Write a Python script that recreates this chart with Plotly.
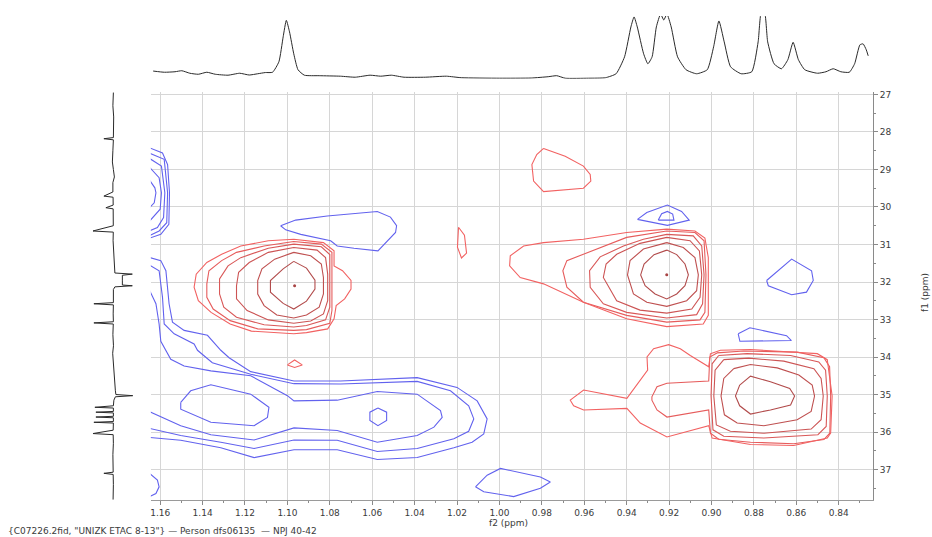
import plotly.graph_objects as go

# ---------------- axis ticks ----------------
f2_ticks = [1.16, 1.14, 1.12, 1.10, 1.08, 1.06, 1.04, 1.02, 1.00, 0.98, 0.96, 0.94, 0.92, 0.90, 0.88, 0.86, 0.84]
f1_ticks = [27, 28, 29, 30, 31, 32, 33, 34, 35, 36, 37]

# ---------------- top 1D projection (f2, intensity) ----------------
top_f2 = [1.1633, 1.158, 1.153, 1.1498, 1.146, 1.142, 1.138, 1.134, 1.128, 1.1225,
          1.118, 1.114, 1.1104, 1.107, 1.104, 1.102, 1.1005, 1.099, 1.097, 1.095,
          1.092, 1.085, 1.075, 1.068, 1.061, 1.056, 1.051, 1.045, 1.035, 1.025,
          1.018, 1.000, 0.985, 0.977, 0.973, 0.969, 0.958, 0.950, 0.945, 0.941,
          0.938, 0.9365, 0.935, 0.932, 0.930, 0.928, 0.926, 0.924, 0.9225, 0.921,
          0.919, 0.916, 0.912, 0.907, 0.902, 0.899, 0.8965, 0.894, 0.891, 0.886,
          0.881, 0.878, 0.8765, 0.875, 0.8735, 0.8705, 0.867, 0.864, 0.8615, 0.859,
          0.856, 0.850, 0.846, 0.8426, 0.839, 0.835, 0.8325, 0.830, 0.8285, 0.827,
          0.8261]
top_int = [0.122, 0.103, 0.111, 0.127, 0.087, 0.071, 0.103, 0.071, 0.056, 0.087,
           0.059, 0.079, 0.098, 0.103, 0.27, 0.667, 0.93, 0.746, 0.397, 0.143,
           0.056, 0.048, 0.040, 0.024, 0.056, 0.040, 0.056, 0.024, 0.024, 0.040,
           0.016, 0.008, 0.011, 0.032, 0.048, 0.008, 0.008, 0.016, 0.079, 0.349,
           0.825, 0.984, 0.825, 0.397, 0.238, 0.349, 0.825, 1.03, 0.936, 1.03,
           0.825, 0.349, 0.143, 0.079, 0.143, 0.508, 0.92, 0.587, 0.19, 0.079,
           0.111, 0.587, 1.06, 1.06, 0.587, 0.238, 0.159, 0.302, 0.58, 0.302,
           0.143, 0.087, 0.111, 0.159, 0.111, 0.103, 0.238, 0.54, 0.555, 0.46,
           0.365]

# ---------------- left 1D projection (f1, intensity) ----------------
left_f1 = [26.95, 27.3, 27.6, 27.9, 28.15, 28.18, 28.21, 28.5, 28.8, 29.0,
           29.2, 29.35, 29.6, 29.71, 29.74, 29.95, 30.02, 30.05, 30.3, 30.5,
           30.64, 30.67, 30.9, 31.2, 31.5, 31.7, 31.76, 31.79, 31.82, 31.95,
           32.08, 32.1, 32.13, 32.2, 32.4, 32.55, 32.58, 32.61, 32.85, 33.06,
           33.09, 33.12, 33.4, 33.7, 33.9, 34.1, 34.4, 34.7, 34.9, 35.0,
           35.03, 35.06, 35.15, 35.3, 35.34, 35.36, 35.45, 35.47, 35.49, 35.58,
           35.6, 35.62, 35.72, 35.74, 35.76, 35.95, 36.04, 36.07, 36.3, 36.6,
           36.9, 37.07, 37.1, 37.13, 37.4, 37.8]
left_int = [-0.025, 0.0, -0.04, -0.015, -0.025, 0.45, -0.025, 0.0, 0.025, -0.025,
            -0.075, 0.0, 0.0, 0.45, -0.01, -0.015, 0.35, -0.015, -0.03, -0.02,
            1.0, -0.02, -0.01, -0.03, -0.05, -0.075, -0.1, -0.975, -0.475, -0.475,
            -0.475, -0.975, -0.1, -0.025, -0.01, -0.025, 0.95, -0.025, -0.015, -0.025,
            0.95, -0.02, 0.0, -0.03, 0.01, -0.015, -0.03, -0.075, -0.125, -0.15,
            -1.0, -0.125, -0.05, -0.025, 0.9, -0.025, -0.025, 0.85, -0.025, -0.025,
            0.85, -0.025, -0.025, 0.95, -0.025, -0.015, 1.0, -0.015, -0.025, 0.0,
            -0.03, -0.015, 0.45, -0.015, -0.025, -0.01]

# ---------------- positive (red) contours ----------------
# peak near f2 1.097 / f1 32.1, rings inner -> outer
red_a_f2 = [
    [1.097, 1.091, 1.087, 1.087, 1.091, 1.097, 1.102, 1.108, 1.108, 1.102, 1.097],
    [1.097, 1.089, 1.084, 1.083, 1.083, 1.085, 1.091, 1.097, 1.105, 1.111, 1.114, 1.114, 1.112, 1.106, 1.097],
    [1.097, 1.086, 1.082, 1.081, 1.081, 1.083, 1.089, 1.097, 1.109, 1.119, 1.124, 1.124, 1.123, 1.118, 1.109, 1.097],
    [1.097, 1.084, 1.080, 1.080, 1.080, 1.082, 1.091, 1.097, 1.111, 1.124, 1.130, 1.132, 1.132, 1.128, 1.122, 1.109, 1.097],
    [1.097, 1.084, 1.079, 1.079, 1.079, 1.080, 1.091, 1.097, 1.114, 1.127, 1.135, 1.138, 1.138, 1.137, 1.131, 1.124, 1.111, 1.097],
    [1.097, 1.083, 1.078, 1.078, 1.074, 1.070, 1.070, 1.073, 1.077, 1.078, 1.081, 1.091, 1.097, 1.106, 1.117, 1.127, 1.136, 1.142, 1.144, 1.143, 1.138, 1.131, 1.122, 1.109, 1.097],
]
red_a_f1 = [
    [31.45, 31.63, 31.95, 32.19, 32.51, 32.72, 32.57, 32.27, 31.96, 31.65, 31.45],
    [31.21, 31.30, 31.52, 31.88, 32.32, 32.67, 32.88, 32.96, 32.88, 32.63, 32.32, 31.96, 31.65, 31.39, 31.21],
    [31.08, 31.15, 31.35, 31.79, 32.50, 32.85, 33.04, 33.10, 33.01, 32.76, 32.45, 32.10, 31.74, 31.48, 31.21, 31.08],
    [30.99, 31.06, 31.27, 31.96, 32.67, 33.01, 33.16, 33.20, 33.14, 32.94, 32.67, 32.32, 31.92, 31.57, 31.35, 31.10, 30.99],
    [30.92, 30.99, 31.21, 31.96, 32.76, 33.10, 33.27, 33.29, 33.25, 33.03, 32.72, 32.41, 32.05, 31.70, 31.43, 31.21, 31.04, 30.92],
    [30.86, 30.95, 31.17, 31.57, 31.70, 31.96, 32.19, 32.45, 32.63, 32.98, 33.25, 33.35, 33.38, 33.35, 33.31, 33.12, 32.81, 32.50, 32.14, 31.79, 31.48, 31.26, 31.04, 30.90, 30.86],
]

# peak near f2 0.921 / f1 31.8, rings inner -> outer
red_b_f2 = [
    [0.9211, 0.9164, 0.9125, 0.9109, 0.9125, 0.9164, 0.9211, 0.9266, 0.9313, 0.9334, 0.9318, 0.9271, 0.9211],
    [0.9211, 0.9133, 0.9078, 0.9062, 0.9070, 0.9117, 0.9211, 0.9305, 0.9368, 0.9396, 0.9384, 0.9321, 0.9211],
    [0.9211, 0.9101, 0.9057, 0.9046, 0.9054, 0.9093, 0.9211, 0.9337, 0.9447, 0.9510, 0.9497, 0.9447, 0.9337, 0.9211],
    [0.9211, 0.9086, 0.9046, 0.9035, 0.9042, 0.9070, 0.9211, 0.9400, 0.9510, 0.9572, 0.9575, 0.9525, 0.9415, 0.9321, 0.9211],
    [0.9211, 0.9078, 0.9035, 0.9026, 0.9031, 0.9054, 0.9211, 0.9400, 0.9604, 0.9682, 0.9701, 0.9682, 0.9604, 0.9400, 0.9211],
    [0.9211, 0.9078, 0.9031, 0.9015, 0.9015, 0.9039, 0.9211, 0.9400, 0.9604, 0.9792, 0.9902, 0.9952, 0.9949, 0.9886, 0.9792, 0.9604, 0.9400, 0.9211],
]
red_b_f1 = [
    [31.15, 31.27, 31.52, 31.81, 32.10, 32.32, 32.45, 32.32, 32.10, 31.81, 31.52, 31.27, 31.15],
    [30.95, 31.08, 31.35, 31.81, 32.23, 32.50, 32.65, 32.54, 32.32, 31.81, 31.43, 31.12, 30.95],
    [30.81, 30.90, 31.17, 31.81, 32.41, 32.72, 32.83, 32.75, 32.50, 31.88, 31.52, 31.26, 30.97, 30.81],
    [30.73, 30.77, 31.04, 31.81, 32.58, 32.87, 32.96, 32.81, 32.58, 32.14, 31.70, 31.33, 31.04, 30.86, 30.73],
    [30.64, 30.68, 30.90, 31.81, 32.81, 33.01, 33.07, 32.89, 32.54, 32.14, 31.70, 31.43, 31.26, 30.81, 30.64],
    [30.59, 30.64, 30.83, 31.35, 32.89, 33.12, 33.19, 32.98, 32.54, 32.05, 31.88, 31.57, 31.30, 31.04, 30.95, 30.86, 30.68, 30.59],
]

# peak near f2 0.875 / f1 35.0, rings inner -> outer (outer two carry the left tail)
red_c_f2 = [
    [0.8867, 0.8816, 0.8722, 0.8631, 0.8608, 0.8627, 0.8722, 0.8816, 0.8867, 0.8887, 0.8867],
    [0.8895, 0.8816, 0.8690, 0.8588, 0.8525, 0.8514, 0.8530, 0.8596, 0.8753, 0.8879, 0.8939, 0.8955, 0.8942, 0.8895],
    [0.8942, 0.8824, 0.8659, 0.8517, 0.8483, 0.8473, 0.8483, 0.8530, 0.8753, 0.8911, 0.8977, 0.8989, 0.8983, 0.8942],
    [0.8966, 0.8832, 0.8627, 0.8494, 0.8462, 0.8454, 0.8459, 0.8498, 0.8753, 0.8942, 0.8993, 0.9002, 0.8997, 0.8966],
    [0.8974, 0.8848, 0.8596, 0.8470, 0.8443, 0.8438, 0.8442, 0.8470, 0.8612, 0.8816, 0.8966, 0.9005, 0.9013, 0.9210, 0.9257, 0.9281, 0.9281, 0.9257, 0.9210, 0.9013, 0.9008, 0.8974],
    [0.9005, 0.8958, 0.8816, 0.8501, 0.8454, 0.8431, 0.8438, 0.8454, 0.8612, 0.8816, 0.8997, 0.9013, 0.9210, 0.9336, 0.9399, 0.9603, 0.9650, 0.9666, 0.9603, 0.9399, 0.9301, 0.9304, 0.9273, 0.9202, 0.9147, 0.9100, 0.9013, 0.9005],
]
red_c_f1 = [
    [34.75, 34.51, 34.66, 34.84, 35.04, 35.28, 35.41, 35.52, 35.30, 35.04, 34.75],
    [34.31, 34.20, 34.29, 34.48, 34.75, 35.04, 35.45, 35.67, 35.83, 35.76, 35.54, 35.04, 34.57, 34.31],
    [34.07, 34.03, 34.11, 34.31, 34.57, 35.04, 35.67, 35.92, 36.03, 35.98, 35.81, 35.04, 34.35, 34.07],
    [33.96, 33.91, 33.96, 34.13, 34.35, 35.04, 35.85, 36.07, 36.16, 36.11, 35.94, 35.04, 34.18, 33.96],
    [33.89, 33.84, 33.87, 34.02, 34.26, 35.04, 36.03, 36.20, 36.31, 36.27, 36.19, 36.03, 35.41, 35.60, 35.41, 35.15, 35.06, 34.79, 34.70, 34.64, 34.00, 33.89],
    [33.91, 33.82, 33.80, 33.91, 34.07, 35.04, 36.03, 36.16, 36.36, 36.33, 36.16, 35.83, 36.13, 35.76, 35.37, 35.41, 35.30, 35.15, 34.88, 35.10, 34.35, 34.00, 33.78, 33.67, 33.78, 33.96, 34.26, 33.91],
]

# isolated low-level positive contours
red_small_f2 = [
    [0.9792, 0.9690, 0.9604, 0.9572, 0.9569, 0.9604, 0.9792, 0.9839, 0.9847, 0.9824, 0.9792],
    [1.0193, 1.0165, 1.0155, 1.0179, 1.0198, 1.0193],
    [1.1000, 1.0966, 1.0930, 1.0966, 1.1000],
]
red_small_f1 = [
    [28.44, 28.65, 28.91, 29.13, 29.31, 29.50, 29.59, 29.31, 28.87, 28.60, 28.44],
    [30.54, 30.75, 31.23, 31.36, 31.07, 30.54],
    [34.21, 34.08, 34.21, 34.28, 34.21],
]
red_dot_f2 = [1.0966, 0.9211]
red_dot_f1 = [32.10, 31.81]

# ---------------- negative (blue) contours ----------------
# long negative ridge along f1 35.5 hugging the left edge, outer -> inner
blue_a_f2 = [
    [1.166, 1.1597, 1.1573, 1.1558, 1.1542, 1.1487, 1.1377, 1.1314, 1.1275, 1.1173, 1.0969, 1.0749, 1.0388, 1.0200, 1.0105, 1.0058, 1.0074, 1.0129, 1.0215, 1.0388, 1.0576, 1.0765, 1.0969, 1.1157, 1.1314, 1.1503, 1.166],
    [1.166, 1.1605, 1.1589, 1.1581, 1.1534, 1.1440, 1.1424, 1.1401, 1.1354, 1.1173, 1.0969, 1.0749, 1.0388, 1.0231, 1.0145, 1.0121, 1.0145, 1.0215, 1.0388, 1.0576, 1.0765, 1.0969, 1.1157, 1.1314, 1.1503, 1.166],
    [1.166, 1.162, 1.1605, 1.16, 1.1597, 1.1550, 1.1487, 1.1361, 1.1173, 1.1000, 1.0969, 1.0765, 1.0576, 1.0388, 1.0278, 1.0270, 1.0309, 1.0388, 1.0576, 1.0765, 1.0969, 1.1157, 1.1361, 1.1503, 1.166],
    [1.1503, 1.1456, 1.1361, 1.1173, 1.1087, 1.1094, 1.1157, 1.1361, 1.1503, 1.1503],
    [1.0573, 1.0532, 1.0532, 1.0573, 1.0611, 1.0611, 1.0573],
]
blue_a_f1 = [
    [31.33, 31.43, 31.70, 32.58, 33.07, 33.29, 33.42, 33.82, 34.02, 34.39, 34.64, 34.64, 34.55, 34.81, 35.17, 35.65, 36.05, 36.27, 36.42, 36.68, 36.73, 36.47, 36.47, 36.68, 36.42, 36.22, 36.14],
    [31.52, 31.70, 32.41, 33.12, 33.38, 33.65, 33.82, 33.93, 34.15, 34.46, 34.71, 34.72, 34.65, 34.90, 35.30, 35.65, 35.98, 36.18, 36.44, 36.52, 36.22, 36.21, 36.44, 36.27, 36.09, 35.89],
    [32.10, 32.58, 33.12, 33.56, 33.58, 34.06, 34.24, 34.37, 34.50, 35.03, 35.17, 35.15, 34.92, 34.99, 35.43, 35.61, 35.87, 36.09, 36.27, 35.96, 35.89, 36.21, 36.07, 35.83, 35.43],
    [35.21, 34.90, 34.74, 34.99, 35.34, 35.61, 35.83, 35.74, 35.39, 35.21],
    [35.36, 35.47, 35.69, 35.83, 35.69, 35.47, 35.36],
]
# arcs at the left edge near f1 29.6, outer -> inner
blue_b_f2 = [
    [1.166, 1.1589, 1.1565, 1.1556, 1.1559, 1.1597, 1.166],
    [1.166, 1.1581, 1.1565, 1.1569, 1.1605, 1.166],
    [1.166, 1.1594, 1.1578, 1.1584, 1.1613, 1.166],
    [1.166, 1.1605, 1.1594, 1.1600, 1.166],
    [1.166, 1.1625, 1.1620, 1.1628, 1.166],
]
blue_b_f1 = [
    [28.40, 28.56, 28.87, 29.62, 30.46, 30.73, 30.85],
    [28.54, 28.73, 29.62, 30.42, 30.64, 30.79],
    [28.67, 28.91, 29.62, 30.28, 30.55, 30.66],
    [28.88, 29.22, 29.62, 30.06, 30.44],
    [29.20, 29.49, 29.62, 29.89, 30.08],
]
# isolated negative contours
blue_small_f2 = [
    [1.1032, 1.0961, 1.0812, 1.0576, 1.0514, 1.0485, 1.0490, 1.0529, 1.0573, 1.0686, 1.0765, 1.0796, 1.0859, 1.0937, 1.1008, 1.1032],
    [0.9349, 0.9305, 0.9208, 0.9141, 0.9105, 0.9208, 0.9349],
    [0.9251, 0.9235, 0.9208, 0.9183, 0.9177, 0.9251],
    [0.8740, 0.8622, 0.8528, 0.8520, 0.8552, 0.8622, 0.8732, 0.8740],
    [0.8874, 0.8819, 0.8646, 0.8623, 0.8866, 0.8874],
    [1.0113, 1.0058, 0.9995, 0.9807, 0.9760, 0.9807, 0.9933, 1.0074, 1.0113],
    [1.166, 1.1613, 1.1605, 1.1620, 1.166],
]
blue_small_f1 = [
    [30.50, 30.35, 30.24, 30.12, 30.27, 30.50, 30.68, 30.90, 31.17, 31.10, 31.04, 30.90, 30.83, 30.73, 30.61, 30.50],
    [30.33, 30.15, 29.95, 30.12, 30.35, 30.49, 30.33],
    [30.35, 30.18, 30.12, 30.19, 30.35, 30.35],
    [31.96, 31.39, 31.70, 31.96, 32.27, 32.34, 32.10, 31.96],
    [33.38, 33.22, 33.43, 33.56, 33.58, 33.38],
    [37.46, 37.15, 36.97, 37.20, 37.33, 37.50, 37.72, 37.59, 37.46],
    [37.05, 37.28, 37.46, 37.64, 37.75],
]

caption = '{C07226.2fid, "UNIZK ETAC 8-13"} \u2014 Person dfs06135 \u00a0\u2014 NPJ 40-42'

# ---------------- styles ----------------
RED_RINGS = ["#b24c4c", "#bf5050", "#cc5454", "#d95858", "#e65c5c", "#f26262"]
RED_LOW = "#f26262"
BLUE = "#6262ee"
GRID = "#d6d6d6"
TXT = "#3a3a3a"
FONT = "DejaVu Sans"

fig = go.Figure()


def add_lines(xs_list, ys_list, colors, width=1.1, xa="x", ya="y"):
    for i, (xs, ys) in enumerate(zip(xs_list, ys_list)):
        c = colors[i] if isinstance(colors, list) else colors
        fig.add_trace(go.Scatter(x=xs, y=ys, mode="lines", xaxis=xa, yaxis=ya,
                                 line=dict(color=c, width=width),
                                 hoverinfo="skip", showlegend=False))


add_lines(red_a_f2, red_a_f1, RED_RINGS)
add_lines(red_b_f2, red_b_f1, RED_RINGS)
add_lines(red_c_f2, red_c_f1, RED_RINGS)
add_lines(red_small_f2, red_small_f1, RED_LOW)
add_lines(blue_a_f2, blue_a_f1, BLUE)
add_lines(blue_b_f2, blue_b_f1, BLUE)
add_lines(blue_small_f2, blue_small_f1, BLUE)
fig.add_trace(go.Scatter(x=red_dot_f2, y=red_dot_f1, mode="markers",
                         marker=dict(color="#a84444", size=3), hoverinfo="skip",
                         showlegend=False))

# projections
fig.add_trace(go.Scatter(x=top_f2, y=top_int, mode="lines", xaxis="x2", yaxis="y2",
                         line=dict(color="#2a2a2a", width=1, shape="spline", smoothing=0.5),
                         hoverinfo="skip", showlegend=False))
fig.add_trace(go.Scatter(x=left_int, y=left_f1, mode="lines", xaxis="x3", yaxis="y3",
                         line=dict(color="#2a2a2a", width=1),
                         hoverinfo="skip", showlegend=False))

W, H = 932, 537
x_dom = [150 / W, 873 / W]
y_dom = [1 - 500 / H, 1 - 90 / H]
x_rng = [1.1644, 0.8238]
y_rng = [37.815, 26.926]

fig.update_layout(
    width=W, height=H,
    margin=dict(l=0, r=0, t=0, b=0),
    paper_bgcolor="white", plot_bgcolor="white",
    font=dict(family=FONT, size=9, color=TXT),
    xaxis=dict(domain=x_dom, range=x_rng, anchor="y",
               tickvals=f2_ticks, ticktext=[f"{v:.2f}" for v in f2_ticks],
               showgrid=True, gridcolor=GRID, gridwidth=1.2, zeroline=False,
               ticks="outside", ticklen=4, tickcolor="#8a8a8a",
               showline=True, linecolor="#9a9a9a", linewidth=1,
               tickfont=dict(family=FONT, size=9, color=TXT),
               minor=dict(dtick=0.01, tick0=0.84, ticks="outside", ticklen=2,
                          tickcolor="#8a8a8a", showgrid=False)),
    yaxis=dict(domain=y_dom, range=y_rng, anchor="x", side="right",
               tickvals=f1_ticks, ticktext=[str(v) for v in f1_ticks],
               showgrid=True, gridcolor=GRID, gridwidth=1.2, zeroline=False,
               ticks="outside", ticklen=4, tickcolor="#8a8a8a",
               showline=True, linecolor="#8a8a8a", linewidth=1,
               tickfont=dict(family=FONT, size=9, color=TXT),
               minor=dict(dtick=0.5, tick0=27, ticks="outside", ticklen=2,
                          tickcolor="#8a8a8a", showgrid=False)),
    xaxis2=dict(domain=x_dom, range=x_rng, anchor="y2", visible=False),
    yaxis2=dict(domain=[1 - 77 / H, 1 - 14 / H], range=[0, 1], anchor="x2", visible=False),
    xaxis3=dict(domain=[92 / W, 132 / W], range=[1.0, -1.0], anchor="y3", visible=False),
    yaxis3=dict(domain=y_dom, range=y_rng, anchor="x3", visible=False),
    annotations=[
        dict(text="f2 (ppm)", x=508 / W, y=1 - 523 / H, xref="paper", yref="paper",
             showarrow=False, xanchor="center", yanchor="middle",
             font=dict(family=FONT, size=9, color=TXT)),
        dict(text="f1 (ppm)", x=925 / W, y=1 - 292 / H, xref="paper", yref="paper",
             showarrow=False, xanchor="center", yanchor="middle", textangle=-90,
             font=dict(family=FONT, size=9, color=TXT)),
        dict(text=caption, x=5 / W, y=1 - 531 / H, xref="paper", yref="paper",
             showarrow=False, xanchor="left", yanchor="middle",
             font=dict(family=FONT, size=9, color=TXT)),
    ],
)

fig.write_html("out.html")
